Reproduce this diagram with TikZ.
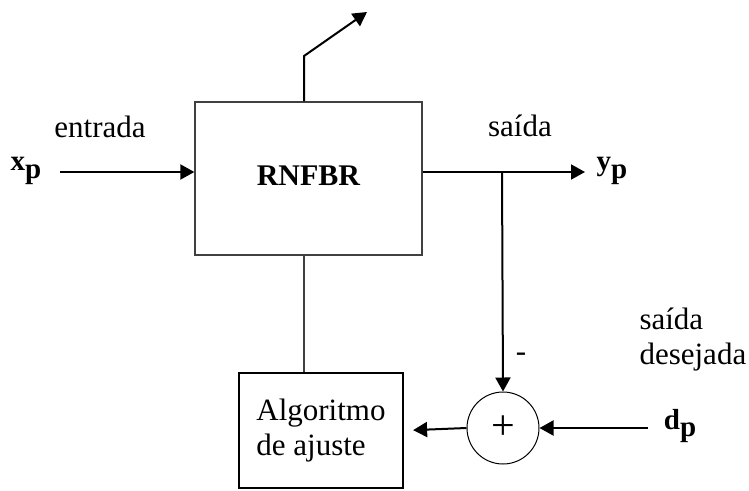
\documentclass[tikz,border=0pt]{standalone}
\usepackage{fontspec}
\setmainfont{Liberation Serif}
\usetikzlibrary{arrows.meta}
\begin{document}
\begin{tikzpicture}[x=1pt,y=-1pt,
    txt/.style={font=\fontsize{31}{35}\selectfont},
    sig/.style={font=\fontsize{29}{33}\selectfont\bfseries},
    flow/.style={line width=2pt,-{Triangle[length=14pt,width=15pt]}}]
      \useasboundingbox (0,0) rectangle (749,490);
      \draw
        (308.5,178.5) node[draw=black!75,line width=1.3pt,minimum width=227,minimum height=153,
          font=\fontsize{30}{34}\selectfont\bfseries] (rnfbr){\raisebox{6pt}{RNFBR}}
        (321,430.5) node[draw,line width=2.2pt,minimum width=164,minimum height=115,
          txt,align=left] (alg){Algoritmo\\de ajuste}
        (503,428) node[draw,circle,line width=1pt,minimum size=72,
          font=\fontsize{42}{42}\selectfont] (sum){\raisebox{-3pt}{+}};
      \draw
        (100,127) node[txt] (entrada){entrada}
        (520,126) node[txt] (saida){saída}
        (636,340) node[txt,align=left,anchor=west] (desejada){saída\\desejada}
        (521,357) node[txt] (menos){-}
        (26,171) node[sig] (xp){x\raisebox{-0.25em}{p}}
        (612,171) node[sig] (yp){y\raisebox{-0.25em}{p}}
        (680,426) node[sig] (dp){d\raisebox{-0.25em}{p}};
      \coordinate (in) at (60,172);
      \coordinate (out) at (585,172);
      \coordinate (jn) at (502,172);
      \coordinate (dpin) at (648,428);
      \coordinate (link) at (304,300);
      \coordinate (bend) at (304,56);
      \coordinate (wt) at (367,12);
      \begin{scope}[flow]
        \draw (in) to (in -| rnfbr.west);
        \draw (out -| rnfbr.east) to (out);
        \draw (jn) to (sum.north);
        \draw[shorten >=9pt] (sum.west) to (alg.east);
        \draw (dpin) to (sum.east);
        \draw (link |- rnfbr.north) -- (bend) -- (wt);
      \end{scope}
      \draw[line width=1.3pt,black!75] (link |- rnfbr.south) to (link |- alg.north);
    \end{tikzpicture}
\end{document}
